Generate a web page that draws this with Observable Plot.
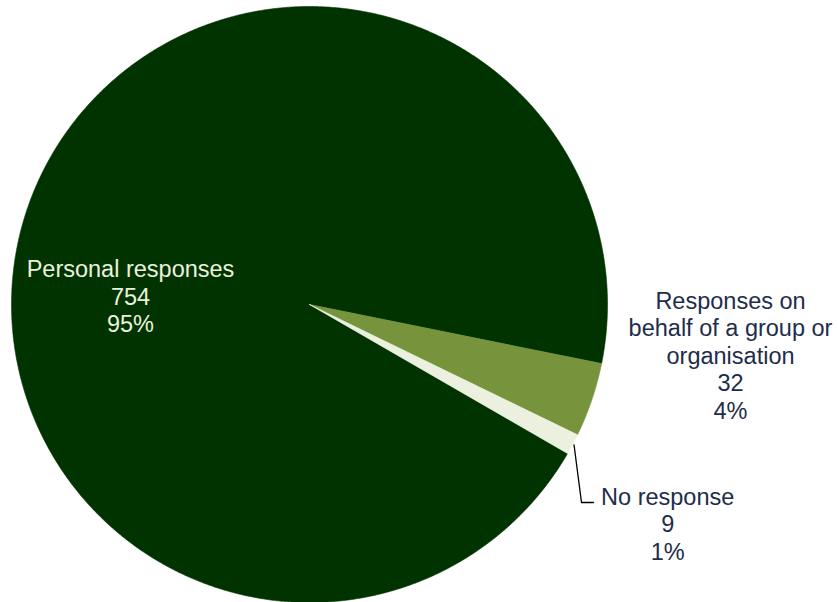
<!DOCTYPE html>
<html>
<head>
<meta charset="utf-8">
<script src="https://cdn.jsdelivr.net/npm/d3@7"></script>
<script src="https://cdn.jsdelivr.net/npm/@observablehq/plot@0.6"></script>
<style>
  html, body { margin: 0; padding: 0; background: #ffffff; }
  #chart { width: 838px; height: 602px; }
</style>
</head>
<body>
<div id="chart"></div>
<script>
// ---- data ----
const categories = ["Personal responses", "Responses on behalf of a group or organisation", "No response"];
const counts = [754, 32, 9];
const labelLines = [
  ["Personal responses"],
  ["Responses on", "behalf of a group or", "organisation"],
  ["No response"]
];

// ---- styles / layout (kept apart from the data) ----
const sliceColors = ["#003300", "#77933C", "#EBF1DE"];
const labelColors = ["#EBF1DE", "#1E2D4B", "#1E2D4B"];
const firstSliceAngleDeg = 120;
// label centres in chart units (pie radius = 1)
const labelPos = [
  {x: -0.6007, y: -0.0285},
  {x: 1.4128, y: 0.1695},
  {x: 1.2020, y: 0.7349}
];
// leader line elbow for the "No response" label (chart units)
const leaderElbow = [{x: 0.9128, y: 0.6644}, {x: 0.9530, y: 0.6644}];

const total = d3.sum(counts);
const a0 = firstSliceAngleDeg * Math.PI / 180;
const arcs = d3.pie().sort(null).startAngle(a0).endAngle(a0 + 2 * Math.PI)(counts);

function slicePoints(arc) {
  const pts = [{x: 0, y: 0}];
  const n = Math.max(2, Math.ceil((arc.endAngle - arc.startAngle) / (Math.PI / 720)));
  for (let k = 0; k <= n; k++) {
    const a = arc.startAngle + (arc.endAngle - arc.startAngle) * k / n;
    pts.push({x: Math.sin(a), y: -Math.cos(a)});
  }
  pts.push({x: 0, y: 0});
  return pts;
}

const marks = [];
arcs.forEach((arc, i) => {
  marks.push(Plot.line(slicePoints(arc), {
    x: "x", y: "y", fill: sliceColors[i], stroke: sliceColors[i], strokeWidth: 0.6, curve: "linear"
  }));
});

// leader line from the "No response" slice
const nr = arcs[2];
const mid = (nr.startAngle + nr.endAngle) / 2;
const leader = [{x: 1.005 * Math.sin(mid), y: -1.005 * Math.cos(mid)}, ...leaderElbow];
marks.push(Plot.line(leader, {x: "x", y: "y", stroke: "#000000", strokeWidth: 1.3}));

counts.forEach((c, i) => {
  const pct = Math.round(c / total * 100) + "%";
  const txt = [...labelLines[i], String(c), pct].join("\n");
  marks.push(Plot.text([txt], {
    x: () => labelPos[i].x, y: () => labelPos[i].y, text: d => d,
    fill: labelColors[i], fontSize: 23.5, lineHeight: 1.17,
    textAnchor: "middle", lineAnchor: "middle",
    fontFamily: "'Liberation Sans', Arial, sans-serif"
  }));
});

const chart = Plot.plot({
  width: 838,
  height: 602,
  margin: 0,
  style: {background: "#ffffff", overflow: "visible"},
  x: {domain: [-1, 1], range: [11, 607], axis: null},
  y: {domain: [-1, 1], range: [6, 602], axis: null},
  marks
});
document.getElementById("chart").appendChild(chart);
</script>
</body>
</html>
